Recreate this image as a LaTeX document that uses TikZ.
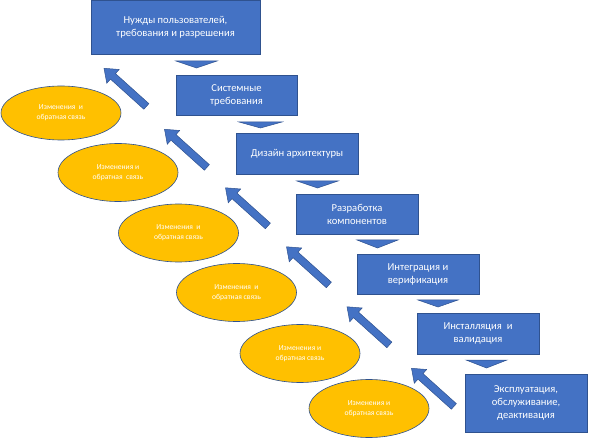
\documentclass[tikz,border=0pt]{standalone}
\usepackage{fontspec}
\setmainfont{Carlito}
\usetikzlibrary{shapes.geometric,shapes.arrows}
\definecolor{boxblue}{HTML}{4472C4}
\definecolor{edgeblue}{HTML}{2F528F}
\definecolor{gold}{HTML}{FFC000}
\tikzset{
  stagebox/.style={draw=edgeblue, line width=0.6pt, fill=boxblue, text=white,
    align=center, inner sep=0pt, font=\fontsize{10.6}{13}\selectfont},
  feedback/.style={ellipse, draw=edgeblue, line width=0.6pt, fill=gold, text=white,
    align=center, inner sep=0pt, minimum width=120pt, minimum height=58pt,
    font=\fontsize{7.6}{10}\selectfont},
  backarrow/.style={single arrow, draw=edgeblue, line width=0.5pt, fill=boxblue,
    inner sep=3.5pt, minimum height=57pt, single arrow head extend=5.5pt,
    single arrow tip angle=75, single arrow head indent=0pt, rotate=138},
  downtri/.style={draw=edgeblue, line width=0.5pt, fill=boxblue}
}
\begin{document}
\begin{tikzpicture}[x=1pt,y=-1pt]
\useasboundingbox (0,0) rectangle (591,443);
% stage boxes
\node[stagebox, minimum width=169pt, minimum height=54pt] (b1) at (175.5,27) {Нужды пользователей,\\требования и разрешения};
\node[stagebox, minimum width=121pt, minimum height=40pt] (b2) at (236.5,95) {Системные\\требования};
\node[stagebox, minimum width=122pt, minimum height=41pt] (b3) at (297,153.5) {Дизайн  архитектуры};
\node[stagebox, minimum width=122pt, minimum height=40pt] (b4) at (357,214) {Разработка\\компонентов};
\node[stagebox, minimum width=122pt, minimum height=40pt] (b5) at (418,274) {Интеграция и\\верификация};
\node[stagebox, minimum width=122pt, minimum height=41pt] (b6) at (478,333.5) {Инсталляция \ и\\валидация};
\node[stagebox, minimum width=122pt, minimum height=58pt] (b7) at (526,403) {Эксплуатация,\\обслуживание,\\деактивация};
% down triangles
\draw[downtri] (176,61) -- (217,61) -- (196.5,68) -- cycle;
\draw[downtri] (239,122) -- (282,122) -- (260.5,128) -- cycle;
\draw[downtri] (297,181) -- (338,181) -- (317.5,188) -- cycle;
\draw[downtri] (357,240) -- (398,240) -- (377.5,248) -- cycle;
\draw[downtri] (418,300) -- (458,300) -- (438,307) -- cycle;
\draw[downtri] (466,360) -- (507,360) -- (486.5,368) -- cycle;
% feedback ellipses
\node[feedback, minimum height=54pt] (e1) at (61,113) {Изменения \ и\\обратная связь};
\node[feedback] (e2) at (118,172.5) {Изменения и\\обратная \ связь};
\node[feedback] (e3) at (178.5,233) {Изменения \ и\\обратная связь};
\node[feedback] (e4) at (236.5,292.5) {Изменения \ и\\обратная связь};
\node[feedback] (e5) at (300,353.5) {Изменения и\\обратная связь};
\node[feedback] (e6) at (369,408.5) {Изменения и\\обратная связь};
% feedback arrows
\node[backarrow] (a1) at (127,89) {};
\node[backarrow] (a2) at (187.5,150) {};
\node[backarrow] (a3) at (248.5,208.5) {};
\node[backarrow] (a4) at (309.5,267.5) {};
\node[backarrow] (a5) at (370,327.5) {};
\node[backarrow] (a6) at (434.5,389) {};
\end{tikzpicture}
\end{document}
